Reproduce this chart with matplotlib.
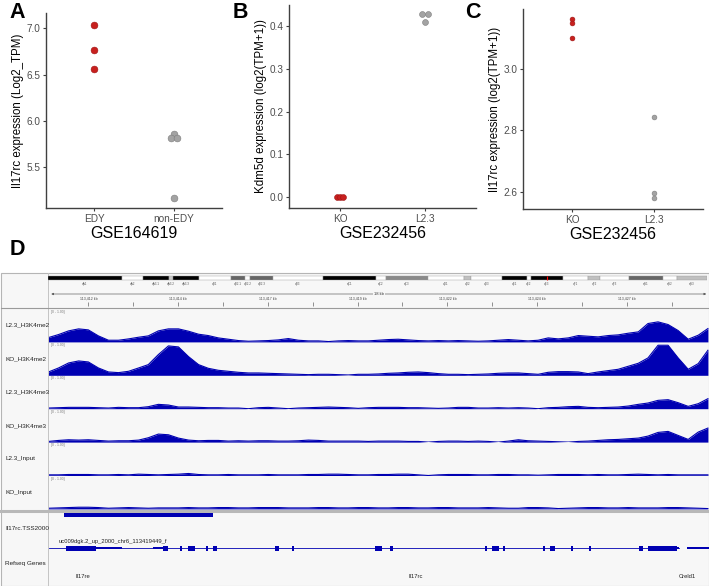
import matplotlib
matplotlib.use("Agg")
import matplotlib.pyplot as plt
from matplotlib.patches import Rectangle

plt.rcParams['font.family'] = ['Liberation Sans', 'DejaVu Sans']

# ---------------- panels A-C (dot plots) ----------------
a_cats = ["EDY", "non-EDY"]
a_edy = [7.04, 6.77, 6.56]
a_non = [5.86, 5.81, 5.81, 5.16]
a_edy_dx = [0, 0, 0]
a_non_dx = [0, -0.037, 0.037, 0]

b_cats = ["KO", "L2.3"]
b_ko = [0.0, 0.0, 0.0]
b_l23 = [0.428, 0.428, 0.409]
b_ko_dx = [-0.04, 0, 0.04]
b_l23_dx = [-0.03, 0.03, 0]

c_cats = ["KO", "L2.3"]
c_ko = [3.163, 3.151, 3.102]
c_l23 = [2.845, 2.597, 2.579]
c_dx = [0, 0, 0]

# ---------------- panel D (genome browser) ----------------
win_kb = 18.4
pos = [0.00, 0.28, 0.56, 0.84, 1.11, 1.39, 1.67, 1.95, 2.23, 2.51,
       2.78, 3.06, 3.34, 3.62, 3.90, 4.18, 4.45, 4.73, 5.01, 5.29,
       5.57, 5.85, 6.12, 6.40, 6.68, 6.96, 7.24, 7.52, 7.80, 8.07,
       8.35, 8.63, 8.91, 9.19, 9.47, 9.74, 10.02, 10.30, 10.58, 10.86,
       11.14, 11.41, 11.69, 11.97, 12.25, 12.53, 12.81, 13.09, 13.36, 13.64,
       13.92, 14.20, 14.48, 14.76, 15.03, 15.31, 15.59, 15.87, 16.15, 16.43,
       16.70, 16.98, 17.26, 17.54, 17.82, 18.10, 18.37]

l23_me2 = [0.13, 0.22, 0.33, 0.39, 0.36, 0.18, 0.05, 0.05, 0.09, 0.14,
           0.18, 0.33, 0.39, 0.39, 0.32, 0.23, 0.19, 0.12, 0.08, 0.04,
           0.02, 0.03, 0.04, 0.06, 0.10, 0.05, 0.03, 0.03, 0.01, 0.03,
           0.04, 0.03, 0.03, 0.05, 0.07, 0.08, 0.06, 0.04, 0.03, 0.04,
           0.03, 0.04, 0.03, 0.02, 0.03, 0.05, 0.07, 0.05, 0.03, 0.05,
           0.12, 0.09, 0.12, 0.19, 0.17, 0.15, 0.19, 0.21, 0.26, 0.30,
           0.55, 0.60, 0.52, 0.34, 0.08, 0.20, 0.40]
ko_me2 = [0.10, 0.22, 0.37, 0.43, 0.40, 0.22, 0.10, 0.08, 0.12, 0.22,
          0.32, 0.62, 0.88, 0.85, 0.56, 0.32, 0.21, 0.15, 0.12, 0.09,
          0.07, 0.07, 0.06, 0.05, 0.04, 0.03, 0.02, 0.03, 0.03, 0.02,
          0.01, 0.03, 0.03, 0.04, 0.06, 0.07, 0.09, 0.10, 0.08, 0.05,
          0.03, 0.03, 0.02, 0.03, 0.04, 0.06, 0.07, 0.07, 0.05, 0.03,
          0.09, 0.11, 0.11, 0.10, 0.05, 0.10, 0.14, 0.18, 0.27, 0.36,
          0.52, 0.90, 0.90, 0.52, 0.18, 0.35, 0.75]
l23_me3 = [0.02, 0.03, 0.04, 0.04, 0.04, 0.03, 0.02, 0.04, 0.03, 0.03,
           0.06, 0.13, 0.11, 0.05, 0.05, 0.04, 0.03, 0.03, 0.02, 0.02,
           0.00, 0.03, 0.04, 0.02, 0.00, 0.02, 0.03, 0.04, 0.05, 0.04,
           0.03, 0.01, 0.03, 0.04, 0.04, 0.04, 0.03, 0.03, 0.02, 0.01,
           0.02, 0.04, 0.04, 0.02, 0.02, 0.03, 0.02, 0.03, 0.02, 0.00,
           0.03, 0.04, 0.06, 0.07, 0.04, 0.03, 0.04, 0.05, 0.08, 0.13,
           0.17, 0.25, 0.27, 0.18, 0.07, 0.15, 0.30]
ko_me3 = [0.02, 0.05, 0.07, 0.06, 0.07, 0.05, 0.03, 0.04, 0.04, 0.06,
          0.13, 0.24, 0.22, 0.12, 0.06, 0.04, 0.05, 0.05, 0.03, 0.04,
          0.03, 0.04, 0.04, 0.03, 0.03, 0.04, 0.06, 0.05, 0.03, 0.03,
          0.03, 0.03, 0.02, 0.03, 0.03, 0.03, 0.02, 0.02, 0.00, 0.02,
          0.03, 0.03, 0.02, 0.03, 0.02, 0.00, 0.03, 0.07, 0.04, 0.03,
          0.02, 0.01, 0.00, 0.02, 0.03, 0.05, 0.07, 0.08, 0.10, 0.12,
          0.18, 0.29, 0.32, 0.20, 0.08, 0.30, 0.42]
l23_input = [0.02, 0.02, 0.03, 0.03, 0.03, 0.02, 0.02, 0.03, 0.02, 0.04,
             0.03, 0.02, 0.03, 0.04, 0.06, 0.03, 0.02, 0.02, 0.03, 0.02,
             0.02, 0.02, 0.03, 0.02, 0.02, 0.02, 0.03, 0.03, 0.04, 0.04,
             0.03, 0.02, 0.02, 0.03, 0.03, 0.04, 0.04, 0.02, 0.00, 0.02,
             0.03, 0.03, 0.03, 0.02, 0.02, 0.03, 0.03, 0.02, 0.02, 0.01,
             0.02, 0.03, 0.03, 0.03, 0.02, 0.03, 0.02, 0.02, 0.03, 0.04,
             0.03, 0.02, 0.03, 0.02, 0.02, 0.02, 0.02]
ko_input = [0.02, 0.03, 0.04, 0.05, 0.05, 0.04, 0.02, 0.03, 0.04, 0.03,
            0.02, 0.03, 0.03, 0.03, 0.04, 0.03, 0.03, 0.04, 0.04, 0.03,
            0.03, 0.04, 0.04, 0.04, 0.03, 0.03, 0.03, 0.04, 0.04, 0.03,
            0.03, 0.04, 0.04, 0.03, 0.03, 0.04, 0.04, 0.03, 0.03, 0.04,
            0.04, 0.03, 0.03, 0.03, 0.04, 0.03, 0.02, 0.02, 0.04, 0.04,
            0.03, 0.01, 0.02, 0.03, 0.04, 0.04, 0.03, 0.03, 0.04, 0.03,
            0.03, 0.03, 0.04, 0.04, 0.03, 0.02, 0.01]
track_names = ["L2.3_H3K4me2", "KO_H3K4me2", "L2.3_H3K4me3",
               "KO_H3K4me3", "L2.3_Input", "KO_Input"]
track_vals = [l23_me2, ko_me2, l23_me3, ko_me3, l23_input, ko_input]

# chr6 ideogram (Mb)
band_names = ["qA1", "qA2", "qA3.1", "qA3.2", "qA3.3", "qB1", "qB2.1", "qB2.2",
              "qB2.3", "qB3", "qC1", "qC2", "qC3", "qD1", "qD2", "qD3", "qE1",
              "qE2", "qE3", "qF1", "qF2", "qF3", "qG1", "qG2", "qG3"]
band_ends = [16.8, 21.6, 27.5, 28.4, 34.3, 41.6, 44.8, 45.9, 51.1, 62.5, 74.5,
             76.8, 86.3, 94.5, 96.1, 103.1, 108.8, 109.7, 117.0, 122.7, 125.4,
             132.0, 139.7, 142.9, 149.7]
band_cols = ["k", "w", "k", "#c8c8c8", "k", "w", "#666666", "w", "#666666", "w",
             "k", "w", "#8a8a8a", "w", "#c0c0c0", "w", "k", "w", "k", "w",
             "#c0c0c0", "w", "#666666", "w", "#c0c0c0"]
locus_mb = 113.42

ruler_pos = [1.11, 3.61, 6.11, 8.61, 11.11, 13.61, 16.11]
ruler_minor = [2.36, 4.86, 7.36, 9.86, 12.36, 14.86, 17.36]
ruler_labels = ["113,412 kb", "113,414 kb", "113,417 kb", "113,419 kb",
                "113,422 kb", "113,424 kb", "113,427 kb"]

tss_start, tss_end = 0.42, 4.57
gene_line = (0.0, 17.57)
exon_start = [0.50, 1.31, 2.92, 3.20, 3.67, 3.90, 4.40, 4.59, 6.32, 6.79,
              9.10, 9.52, 12.17, 12.36, 12.67, 13.78, 13.98, 14.56, 15.06,
              16.45, 16.70, 17.51, 17.79]
exon_end = [1.31, 2.06, 3.20, 3.34, 3.73, 4.09, 4.45, 4.70, 6.43, 6.85,
            9.30, 9.60, 12.22, 12.56, 12.72, 13.82, 14.11, 14.62, 15.12,
            16.56, 17.51, 17.57, 18.40]
exon_kind = ["cds", "utr", "utr", "cds", "cds", "cds", "cds", "cds", "cds", "cds",
             "cds", "cds", "cds", "cds", "cds", "cds", "cds", "cds", "cds",
             "cds", "cds", "utr", "utr"]
gene_names = ["Il17re", "Il17rc", "Creld1"]
gene_name_pos = [0.95, 10.22, 18.05]

W, H = 709, 586
fig = plt.figure(figsize=(W / 100, H / 100), dpi=100)


def rect(x0, y0, x1, y1):
    return [x0 / W, 1 - y1 / H, (x1 - x0) / W, (y1 - y0) / H]


RED = "#C8201E"
GREY = "#A3A3A3"


def dot_panel(box, cats, groups, offsets, colors, ylim, yticks, ylabel, xlabel, size):
    ax = fig.add_axes(rect(*box))
    for i, (vals, dx, col) in enumerate(zip(groups, offsets, colors)):
        edge = "#9e1414" if col == RED else "#7d7d7d"
        ax.scatter([i + 1 + d for d in dx], vals, s=size, color=col,
                   edgecolors=edge, linewidths=0.4, zorder=3, clip_on=False)
    ax.set_xlim(0.4, 2.6)
    ax.set_ylim(*ylim)
    ax.set_yticks(yticks)
    ax.set_xticks([1, 2], cats)
    for s in ["top", "right"]:
        ax.spines[s].set_visible(False)
    for s in ["left", "bottom"]:
        ax.spines[s].set_color("#404040")
        ax.spines[s].set_linewidth(1.0)
    ax.tick_params(length=2.5, width=0.8, color="#404040", labelsize=7.2,
                   labelcolor="#4d4d4d", pad=1.5)
    ax.set_ylabel(ylabel, fontsize=8.3, labelpad=2)
    ax.set_xlabel(xlabel, fontsize=11.5, labelpad=2)
    return ax


dot_panel((46, 13, 222, 208), a_cats, [a_edy, a_non], [a_edy_dx, a_non_dx], [RED, GREY],
          (5.057, 7.166), [5.5, 6.0, 6.5, 7.0], "Il17rc expression (Log2_TPM)", "GSE164619", 24)
dot_panel((289, 5, 476, 208), b_cats, [b_ko, b_l23], [b_ko_dx, b_l23_dx], [RED, GREY],
          (-0.026, 0.450), [0.0, 0.1, 0.2, 0.3, 0.4], "Kdm5d expression (log2(TPM+1))", "GSE232456", 18)
dot_panel((523, 9, 703, 209), c_cats, [c_ko, c_l23], [c_dx, c_dx], [RED, GREY],
          (2.544, 3.196), [2.6, 2.8, 3.0], "Il17rc expression (log2(TPM+1))", "GSE232456", 12)

for letter, x, y in [("A", 9, 2), ("B", 233, 2), ("C", 465, 2), ("D", 10, 239)]:
    fig.text(x / W, 1 - y / H, letter, fontsize=15.5, fontweight="bold", va="top", ha="left")

# ---------------- panel D ----------------
BLUE = "#0000B2"
BG = "#f7f7f7"

ax_bg = fig.add_axes(rect(0, 270, 709, 586))
ax_bg.set_xlim(0, 709)
ax_bg.set_ylim(586, 270)
ax_bg.axis("off")
ax_bg.add_patch(Rectangle((1, 273), 707.5, 312.5, facecolor=BG, edgecolor="#b5b5b5", lw=0.8))
ax_bg.plot([48, 48], [273, 586], color="#c4c4c4", lw=0.7)
ax_bg.plot([1, 708.5], [307.8, 307.8], color="#9a9a9a", lw=0.8)
ax_bg.plot([1, 708.5], [510.6, 510.6], color="#b8b8b8", lw=2.2)

# ideogram
ax_id = fig.add_axes(rect(48, 274, 707, 290))
ax_id.set_xlim(0, band_ends[-1])
ax_id.set_ylim(-12, 4)
ax_id.axis("off")
starts = [0] + band_ends[:-1]
ax_id.barh([0] * len(band_ends), [e - s for s, e in zip(starts, band_ends)], left=starts,
           height=3.6, color=band_cols, edgecolor="#9a9a9a", linewidth=0.3)
for s, e, n in zip(starts, band_ends, band_names):
    ax_id.text((s + e) / 2, -6, n, fontsize=2.2, color="#555555", ha="center", va="center")
ax_id.vlines([locus_mb], -2.3, 2.3, color="red", lw=0.8)

# ruler
ax_r = fig.add_axes(rect(48.5, 290, 709, 307.5))
ax_r.set_xlim(0, win_kb)
ax_r.set_ylim(0, 17.5)
ax_r.axis("off")
ax_r.annotate("", xy=(win_kb, 13.5), xytext=(0, 13.5),
              arrowprops=dict(arrowstyle="<|-|>", lw=0.45, color="#555555", mutation_scale=3))
ax_r.text(win_kb / 2, 13.5, "18 kb", fontsize=3, ha="center", va="center", color="#333333",
          bbox=dict(fc=BG, ec="none", pad=0.6))
ax_r.vlines(ruler_pos + ruler_minor, 1.5, 5.5, color="#666666", lw=0.5)
for p, lab in zip(ruler_pos, ruler_labels):
    ax_r.text(p, 8.8, lab, fontsize=2.6, ha="center", va="center", color="#444444")

# coverage tracks
slot = 33.4
for i, (name, vals) in enumerate(zip(track_names, track_vals)):
    y0 = 308.5 + slot * i
    ax = fig.add_axes(rect(48.5, y0, 709, y0 + slot))
    ax.set_xlim(0, win_kb)
    ax.set_ylim(0, 1)
    ax.axis("off")
    ax.fill_between(pos, vals, color=BLUE, lw=0)
    ax.plot(pos, vals, color=BLUE, lw=0.8)
    ax.text(0.004, 0.97, "[0 - 1.00]", transform=ax.transAxes, fontsize=2.4,
            color="#777777", va="top", ha="left")
    fig.text(5 / W, 1 - (y0 + slot / 2) / H, name, fontsize=4.6, color="#222222", va="center")

# feature track
ax_t = fig.add_axes(rect(48.5, 511, 709, 535))
ax_t.set_xlim(0, win_kb)
ax_t.set_ylim(-20, 4)
ax_t.axis("off")
ax_t.barh([0], [tss_end - tss_start], left=[tss_start], height=3.4, color=BLUE)
fig.text(5 / W, 1 - 528 / H, "Il17rc.TSS2000", fontsize=4.6, color="#222222", va="center")

# refseq genes
ax_g = fig.add_axes(rect(48.5, 535, 709, 586))
ax_g.set_xlim(0, win_kb)
ax_g.set_ylim(-38, 13)
ax_g.axis("off")
ax_g.plot(gene_line, [0, 0], color=BLUE, lw=0.6)
heights = [5.0 if k == "cds" else 2.8 for k in exon_kind]
ax_g.barh([0] * len(exon_start), [e - s for s, e in zip(exon_start, exon_end)],
          left=exon_start, height=heights, color=BLUE)
ax_g.text(0.28, 6.5, "uc009dgk.2_up_2000_chr6_113419449_f", fontsize=4.2,
          color="#222222", va="center", ha="left")
for n, p in zip(gene_names, gene_name_pos):
    ax_g.text(p, -29, n, fontsize=4.2, color="#222222", va="center",
              ha="right" if p > win_kb - 0.5 else "center")
fig.text(5 / W, 1 - 563 / H, "Refseq Genes", fontsize=4.6, color="#222222", va="center")

fig.savefig("out.png", dpi=100)
